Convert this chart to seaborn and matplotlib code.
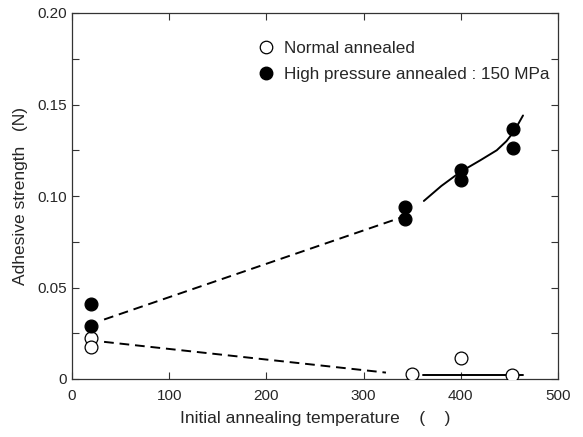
import matplotlib
matplotlib.use("Agg")
import matplotlib.pyplot as plt
import seaborn as sns
from matplotlib.lines import Line2D

# Data
normal_temp = [20, 20, 350, 400, 453]
normal_strength = [0.0224, 0.0177, 0.0030, 0.0117, 0.0022]
hp_temp = [20, 20, 343, 343, 400, 400, 454, 454]
hp_strength = [0.041, 0.029, 0.094, 0.0875, 0.114, 0.109, 0.1365, 0.1265]

# Guide lines
hp_dash_x = [33, 340]
hp_dash_y = [0.0325, 0.0885]
nm_dash_x = [33, 323]
nm_dash_y = [0.0203, 0.0035]
hp_fit_x = [362, 380, 400, 420, 437, 447, 455, 464]
hp_fit_y = [0.0973, 0.1055, 0.1133, 0.1195, 0.1250, 0.1300, 0.1355, 0.1440]
nm_fit_x = [361, 464]
nm_fit_y = [0.0023, 0.0023]

x_ticks = [0, 100, 200, 300, 400, 500]
y_ticks = [0, 0.05, 0.10, 0.15, 0.20]
y_ticklabels = ["0", "0.05", "0.10", "0.15", "0.20"]

sns.set_style("ticks")
plt.rcParams['font.family'] = ['Liberation Sans', 'DejaVu Sans']

fig, ax = plt.subplots(figsize=(5.83, 4.37), dpi=100)
fig.subplots_adjust(left=72/583, right=558/583, top=1-13/437, bottom=1-379/437)

lw = 1.4
sns.lineplot(x=hp_dash_x, y=hp_dash_y, ax=ax, color="black", lw=lw, linestyle=(0, (5, 3)), estimator=None, sort=False)
sns.lineplot(x=nm_dash_x, y=nm_dash_y, ax=ax, color="black", lw=lw, linestyle=(0, (5, 3)), estimator=None, sort=False)
sns.lineplot(x=hp_fit_x, y=hp_fit_y, ax=ax, color="black", lw=lw, estimator=None, sort=False)
sns.lineplot(x=nm_fit_x, y=nm_fit_y, ax=ax, color="black", lw=lw, estimator=None, sort=False)

sns.scatterplot(x=normal_temp, y=normal_strength, ax=ax, s=85, facecolor="white", edgecolor="black", linewidth=0.9, zorder=5)
sns.scatterplot(x=hp_temp, y=hp_strength, ax=ax, s=85, color="black", edgecolor="black", linewidth=0.9, zorder=5)

ax.set_xlim(0, 500)
ax.set_ylim(0, 0.20)
ax.set_xticks(x_ticks)
ax.set_yticks(y_ticks)
ax.set_yticklabels(y_ticklabels)
ax.set_yticks([0.025, 0.075, 0.125, 0.175], minor=True)
ax.tick_params(axis='both', which='both', direction='in', top=True, right=True, labelsize=11, length=5, width=0.8, color="#333333")
ax.tick_params(axis='x', pad=7)
for s in ax.spines.values():
    s.set_linewidth(0.9)
    s.set_color("#333333")

ax.set_xlabel("Initial annealing temperature    (    )", fontsize=12.5)
ax.xaxis.set_label_coords(0.5, -0.088)
ax.set_ylabel("Adhesive strength   (N)", fontsize=12.5)
ax.yaxis.set_label_coords(-0.09, 0.5)

handles = [
    Line2D([], [], marker='o', linestyle='none', markersize=9, markerfacecolor='white', markeredgecolor='black', markeredgewidth=0.9),
    Line2D([], [], marker='o', linestyle='none', markersize=9, markerfacecolor='black', markeredgecolor='black'),
]
ax.legend(handles, ["Normal annealed", "High pressure annealed : 150 MPa"], loc="upper left",
          bbox_to_anchor=(0.3635, 0.946), frameon=False, fontsize=12.3, handletextpad=0.55, labelspacing=0.63, borderpad=0, handlelength=1.0)

fig.savefig("out.png", dpi=100)
